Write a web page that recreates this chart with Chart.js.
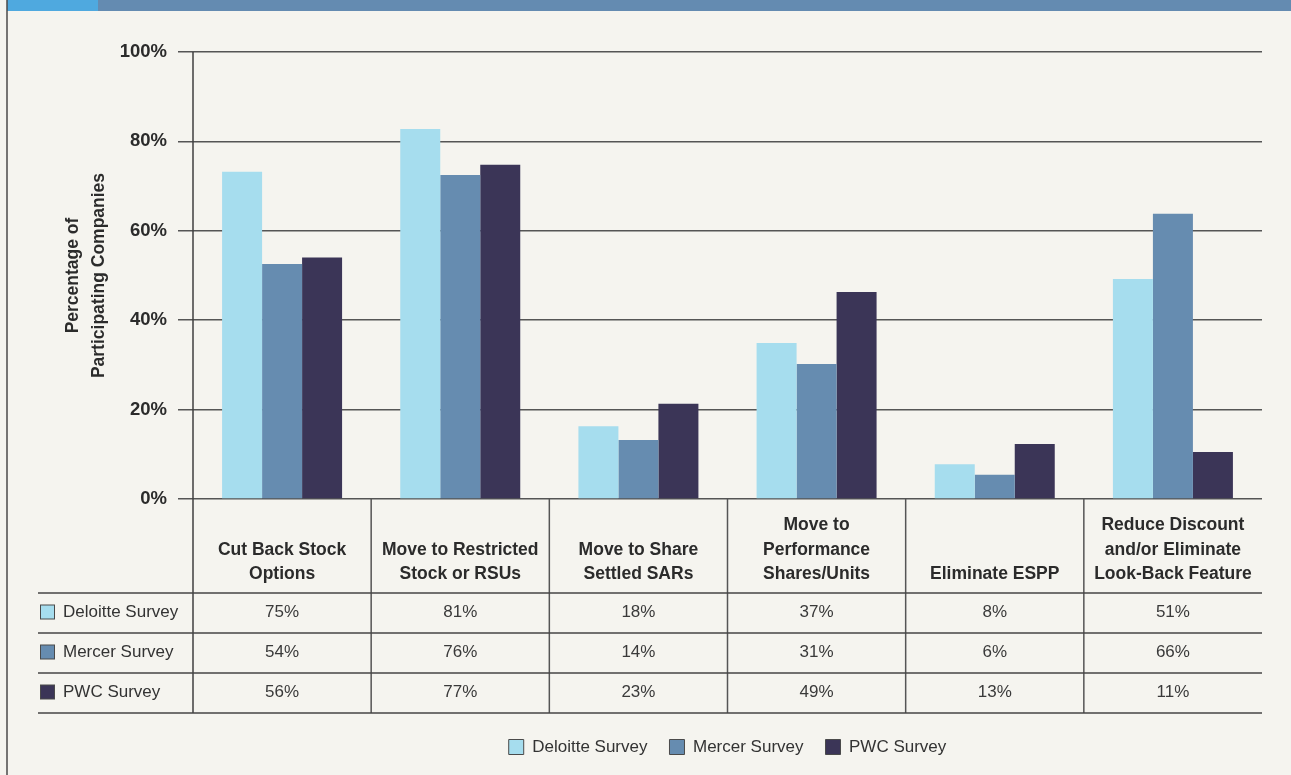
<!DOCTYPE html>
<html><head><meta charset="utf-8">
<script src="https://cdn.jsdelivr.net/npm/chart.js@4/dist/chart.umd.min.js"></script>
<style>html,body{margin:0;padding:0;background:#F5F4EF;overflow:hidden}#wrap{width:1291px;height:775px;position:relative}</style>
</head><body><div id="wrap"><canvas id="c" width="1291" height="775"></canvas></div>
<script>
const categories = [["Cut Back Stock","Options"],["Move to Restricted","Stock or RSUs"],["Move to Share","Settled SARs"],["Move to","Performance","Shares/Units"],["Eliminate ESPP"],["Reduce Discount","and/or Eliminate","Look-Back Feature"]];
const seriesNames = ["Deloitte Survey","Mercer Survey","PWC Survey"];
const deloitteBars = [73.2,82.8,16.3,34.9,7.8,49.2];
const mercerBars = [52.6,72.5,13.2,30.2,5.4,63.8];
const pwcBars = [54.0,74.8,21.3,46.3,12.3,10.5];
const deloitteTable = ["75%","81%","18%","37%","8%","51%"];
const mercerTable = ["54%","76%","14%","31%","6%","66%"];
const pwcTable = ["56%","77%","23%","49%","13%","11%"];
const yTicks = [0,20,40,60,80,100];
const yTitle = ["Percentage of","Participating Companies"];
const seriesColors = ["#A6DDEE","#668CB0","#3B3557"];

const FAM = '"Liberation Sans", Arial, Helvetica, sans-serif';
Chart.defaults.font.family = FAM;
const tableRows = [deloitteTable, mercerTable, pwcTable];

const tablePlugin = {
  id: 'tablePlugin',
  beforeDraw(chart) {
    const ctx = chart.ctx;
    ctx.save();
    ctx.fillStyle = '#F5F4EF';
    ctx.fillRect(0, 0, chart.width, chart.height);
    ctx.fillStyle = '#4FA9DF';
    ctx.fillRect(7, 0, 91, 11);
    ctx.fillStyle = '#648BB1';
    ctx.fillRect(98, 0, chart.width - 98, 11);
    ctx.strokeStyle = '#4a4a4a';
    ctx.lineWidth = 1.5;
    ctx.beginPath(); ctx.moveTo(7, 0); ctx.lineTo(7, chart.height); ctx.stroke();
    ctx.restore();
  },
  afterDraw(chart) {
    const ctx = chart.ctx;
    const {left, right, top, bottom} = chart.chartArea;
    const xs = chart.scales.x;
    const rowTop = bottom + 94, rowH = 40;
    const tableBottom = rowTop + rowH * 3;
    ctx.save();
    ctx.strokeStyle = '#3f3f3f';
    ctx.lineWidth = 1.5;
    ctx.beginPath(); ctx.moveTo(left, top); ctx.lineTo(left, tableBottom); ctx.stroke();
    ctx.strokeStyle = '#555';
    for (let i = 1; i < categories.length; i++) {
      const xx = (xs.getPixelForValue(i - 1) + xs.getPixelForValue(i)) / 2;
      ctx.beginPath(); ctx.moveTo(xx, bottom); ctx.lineTo(xx, tableBottom); ctx.stroke();
    }
    ctx.strokeStyle = '#444';
    for (let r = 0; r <= 3; r++) {
      const yy = rowTop + r * rowH;
      ctx.beginPath(); ctx.moveTo(38, yy); ctx.lineTo(right, yy); ctx.stroke();
    }
    ctx.textBaseline = 'middle';
    for (let r = 0; r < 3; r++) {
      const cy = rowTop + r * rowH + rowH / 2 - 1;
      ctx.fillStyle = seriesColors[r];
      ctx.fillRect(40.5, cy - 7, 14, 14);
      ctx.strokeStyle = '#4a4a4a';
      ctx.lineWidth = 1;
      ctx.strokeRect(40.5, cy - 7, 14, 14);
      ctx.fillStyle = '#333';
      ctx.textAlign = 'left';
      ctx.font = '17px ' + FAM;
      ctx.fillText(seriesNames[r], 63, cy + 0.5);
      ctx.textAlign = 'center';
      ctx.font = '17px ' + FAM;
      ctx.fillStyle = '#3a3a3a';
      tableRows[r].forEach((t, i) => ctx.fillText(t, xs.getPixelForValue(i), cy + 0.5));
    }
    ctx.restore();
  }
};

new Chart(document.getElementById('c'), {
  type: 'bar',
  data: {
    labels: categories,
    datasets: [
      {label: seriesNames[0], data: deloitteBars, backgroundColor: seriesColors[0]},
      {label: seriesNames[1], data: mercerBars, backgroundColor: seriesColors[1]},
      {label: seriesNames[2], data: pwcBars, backgroundColor: seriesColors[2]}
    ]
  },
  options: {
    responsive: false,
    animation: false,
    devicePixelRatio: 1,
    datasets: {bar: {barPercentage: 1, categoryPercentage: 0.6735, borderWidth: 0}},
    layout: {padding: {top: 52, right: 29, left: 0, bottom: 9.5}},
    scales: {
      y: {
        min: 0, max: 100,
        afterBuildTicks: s => { s.ticks = yTicks.map(v => ({value: v})); },
        afterFit: s => { s.width = 193; },
        grid: {color: '#555', lineWidth: 1.5, tickLength: 15, tickColor: '#555'},
        border: {display: false},
        ticks: {padding: 11, color: '#2b2b2b', font: {size: 18.5, weight: 'bold'}, callback: v => v + '%'},
        title: {display: true, text: yTitle, color: '#2b2b2b', font: {size: 17.5, weight: 'bold', lineHeight: 26/17.5}, padding: {top: 60, bottom: 0}}
      },
      x: {
        afterFit: s => { s.height = 217.5; },
        grid: {display: false, drawTicks: false},
        border: {display: false},
        ticks: {autoSkip: false, maxRotation: 0, minRotation: 0, crossAlign: 'far', padding: 26.5, color: '#2b2b2b', font: {size: 17.5, weight: 'bold', lineHeight: 24.5/17.5}}
      }
    },
    plugins: {
      tooltip: {enabled: false},
      legend: {
        position: 'bottom', fullSize: false, align: 'center',
        labels: {
          boxWidth: 15, boxHeight: 15, padding: 22, color: '#333', font: {size: 17},
          generateLabels(chart) {
            const items = Chart.defaults.plugins.legend.labels.generateLabels(chart);
            items.forEach(it => { it.lineWidth = 1; it.strokeStyle = '#4a4a4a'; });
            return items;
          }
        }
      }
    }
  },
  plugins: [tablePlugin]
});
</script></body></html>
